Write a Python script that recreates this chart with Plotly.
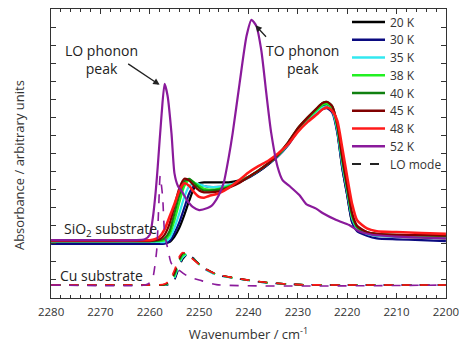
import plotly.graph_objects as go

# ---------------- data ----------------
temps = ["20 K", "30 K", "35 K", "38 K", "40 K", "45 K", "48 K"]
colors = ["#000000", "#0a0a80", "#33e8f0", "#22f022", "#108010", "#800000", "#ff1a1a"]

wn_solid = [2280, 2270, 2262, 2260, 2259, 2258, 2257, 2256, 2255, 2254, 2253, 2252, 2251, 2250,
            2249, 2248, 2246, 2244, 2242, 2240, 2238, 2236, 2234, 2232, 2230, 2228, 2226, 2225,
            2224, 2223, 2222, 2221, 2220, 2219, 2218, 2216, 2214, 2210, 2205, 2200]

abs_20K = [3.10, 3.10, 3.10, 3.05, 3.05, 3.05, 3.05, 3.10, 3.40, 3.90, 4.60, 5.40, 6.10, 6.35,
           6.40, 6.40, 6.40, 6.40, 6.50, 6.70, 7.00, 7.40, 7.90, 8.50, 9.35, 9.95, 10.45, 10.65,
           10.70, 10.40, 9.20, 7.20, 5.70, 4.20, 3.80, 3.55, 3.45, 3.40, 3.35, 3.30]
abs_30K = [3.00, 3.00, 3.00, 3.00, 3.00, 3.00, 3.00, 3.15, 3.60, 4.20, 5.00, 5.80, 6.20, 6.25,
           6.20, 6.15, 6.15, 6.20, 6.40, 6.65, 7.00, 7.40, 7.85, 8.45, 9.25, 9.80, 10.25, 10.45,
           10.50, 10.25, 9.15, 7.20, 5.70, 4.20, 3.70, 3.45, 3.30, 3.25, 3.20, 3.15]
abs_35K = [3.10, 3.10, 3.10, 3.10, 3.10, 3.10, 3.10, 3.30, 3.90, 4.70, 5.60, 6.20, 6.35, 6.30,
           6.20, 6.15, 6.15, 6.25, 6.45, 6.70, 7.05, 7.45, 7.90, 8.50, 9.30, 9.90, 10.35, 10.55,
           10.60, 10.35, 9.30, 7.40, 5.90, 4.40, 3.85, 3.55, 3.45, 3.40, 3.38, 3.35]
abs_38K = [3.15, 3.15, 3.15, 3.15, 3.15, 3.15, 3.20, 3.50, 4.30, 5.30, 6.20, 6.55, 6.40, 6.20,
           6.05, 6.00, 6.05, 6.20, 6.40, 6.70, 7.05, 7.45, 7.90, 8.55, 9.35, 9.95, 10.45, 10.70,
           10.75, 10.50, 9.45, 7.60, 6.00, 4.50, 3.90, 3.60, 3.50, 3.45, 3.42, 3.40]
abs_40K = [3.15, 3.15, 3.15, 3.15, 3.15, 3.20, 3.30, 3.70, 4.70, 5.70, 6.45, 6.60, 6.35, 6.10,
           5.95, 5.95, 6.00, 6.15, 6.40, 6.70, 7.05, 7.45, 7.95, 8.60, 9.40, 10.00, 10.55, 10.80,
           10.85, 10.60, 9.55, 7.70, 6.10, 4.60, 3.95, 3.65, 3.55, 3.50, 3.48, 3.45]
abs_45K = [3.15, 3.15, 3.15, 3.15, 3.20, 3.25, 3.50, 4.10, 5.10, 6.10, 6.60, 6.50, 6.20, 5.95,
           5.85, 5.85, 5.90, 6.10, 6.35, 6.70, 7.05, 7.45, 7.95, 8.60, 9.40, 10.00, 10.55, 10.80,
           10.85, 10.60, 9.60, 7.80, 6.20, 4.70, 4.00, 3.65, 3.55, 3.50, 3.48, 3.45]
abs_48K = [3.20, 3.20, 3.20, 3.20, 3.25, 3.40, 3.80, 4.50, 5.20, 5.95, 6.35, 6.20, 5.85, 5.60,
           5.55, 5.65, 5.80, 6.10, 6.50, 6.95, 7.30, 7.60, 8.00, 8.50, 9.20, 9.75, 10.20, 10.45,
           10.55, 10.35, 9.80, 8.30, 6.70, 5.20, 4.30, 3.85, 3.70, 3.65, 3.60, 3.55]
solid_series = [abs_20K, abs_30K, abs_35K, abs_38K, abs_40K, abs_45K, abs_48K]

wn_52 = [2280, 2270, 2263, 2261, 2260, 2259.4, 2258.8, 2258.4, 2257.6, 2257, 2256.4, 2255.6, 2255,
         2254.3, 2253.5, 2252.5, 2251.3, 2250, 2248.3, 2247.5, 2247, 2246, 2245, 2244, 2243.2,
         2241.8, 2240.4, 2239.4, 2238.4, 2237.4, 2236.4, 2235.4, 2234.1, 2233.1, 2231.7, 2229.7,
         2228.3, 2226.3, 2225, 2222.2, 2219.6, 2217.6, 2215, 2210, 2205, 2200]
abs_52K = [3.20, 3.20, 3.20, 3.25, 3.50, 4.40, 5.90, 7.25, 10.20, 11.85, 11.20, 9.10, 6.90,
           6.20, 5.90, 5.43, 5.04, 4.87, 4.98, 5.10, 5.25, 5.70, 6.40, 7.80, 9.14,
           11.90, 14.50, 15.40, 15.05, 13.70, 11.35, 9.14, 7.25, 6.53, 6.20, 5.70,
           5.20, 4.95, 4.71, 4.32, 4.04, 3.70, 3.50, 3.40, 3.35, 3.30]

# LO mode (Cu substrate) dashed curves
wn_lo = [2280, 2260, 2258, 2257, 2256, 2255, 2254, 2253.3, 2252.3, 2251.5, 2249.3, 2246.5,
         2243.2, 2240, 2236.4, 2229.7, 2220, 2200]
lo_20K = [0.72, 0.72, 0.72, 0.72, 0.76, 1.00, 1.75, 2.15, 2.45, 2.30, 1.70, 1.30, 1.12, 0.98, 0.85, 0.74, 0.72, 0.72]
lo_30K = [0.72, 0.72, 0.72, 0.72, 0.78, 1.05, 1.85, 2.25, 2.50, 2.30, 1.68, 1.28, 1.11, 0.97, 0.84, 0.74, 0.72, 0.72]
lo_35K = [0.72, 0.72, 0.72, 0.72, 0.80, 1.10, 1.90, 2.25, 2.45, 2.28, 1.66, 1.27, 1.11, 0.97, 0.84, 0.74, 0.72, 0.72]
lo_38K = [0.72, 0.72, 0.72, 0.73, 0.83, 1.20, 2.00, 2.35, 2.45, 2.25, 1.70, 1.30, 1.12, 0.98, 0.85, 0.74, 0.72, 0.72]
lo_40K = [0.72, 0.72, 0.72, 0.74, 0.86, 1.30, 2.10, 2.45, 2.45, 2.25, 1.72, 1.32, 1.13, 0.99, 0.86, 0.74, 0.72, 0.72]
lo_45K = [0.72, 0.72, 0.72, 0.75, 0.90, 1.40, 2.20, 2.50, 2.42, 2.22, 1.72, 1.32, 1.13, 0.99, 0.86, 0.74, 0.72, 0.72]
lo_48K = [0.72, 0.72, 0.73, 0.78, 0.98, 1.55, 2.30, 2.52, 2.40, 2.20, 1.70, 1.32, 1.13, 0.99, 0.86, 0.74, 0.72, 0.72]
lo_series = [lo_20K, lo_30K, lo_35K, lo_38K, lo_40K, lo_45K, lo_48K]

wn_lo52 = [2280, 2261, 2260, 2259.4, 2258.6, 2258.2, 2257.9, 2257.4, 2257, 2256.3, 2255.6,
           2253.3, 2252, 2250, 2246.5, 2200]
lo_52K = [0.72, 0.72, 0.85, 1.10, 2.65, 5.00, 6.76, 5.60, 3.60, 2.65, 1.90, 1.38, 1.16, 1.00, 0.74, 0.72]

color_52 = "#8a1a9b"
legend_labels = temps + ["52 K", "LO mode"]
legend_colors = colors + [color_52, "#222222"]

# ---------------- figure ----------------
W, H = 459, 354
ML, MR, MT, MB = 51, 13, 9, 56
PW, PH = W - ML - MR, H - MT - MB


def px_x(px):
    return (px - ML) / PW


def px_y(py):
    return (H - MB - py) / PH


fig = go.Figure()

for name, col, ys in zip(temps, colors, solid_series):
    fig.add_trace(go.Scatter(x=wn_solid, y=ys, mode="lines", name=name, showlegend=False,
                             line=dict(color=col, width=2.6 if name == "48 K" else 2.2,
                                       shape="spline", smoothing=0.6)))
fig.add_trace(go.Scatter(x=wn_52, y=abs_52K, mode="lines", name="52 K", showlegend=False,
                         line=dict(color=color_52, width=2.2, shape="spline", smoothing=0.6)))

for name, col, ys in zip(temps, colors, lo_series):
    fig.add_trace(go.Scatter(x=wn_lo, y=ys, mode="lines", name=name + " LO", showlegend=False,
                             line=dict(color=col, width=1.6, dash="dash", shape="spline", smoothing=0.6)))
fig.add_trace(go.Scatter(x=wn_lo52, y=lo_52K, mode="lines", name="52 K LO", showlegend=False,
                         line=dict(color=color_52, width=1.6, dash="dash", shape="spline", smoothing=0.6)))

FONT = "Open Sans"
ann_font = dict(family=FONT, size=14, color="#222222")

# legend (drawn manually for exact row spacing)
for i, (lab, col) in enumerate(zip(legend_labels, legend_colors)):
    yc = 22 + 17.75 * i
    fig.add_shape(type="line", xref="paper", yref="paper",
                  x0=px_x(352), x1=px_x(385), y0=px_y(yc), y1=px_y(yc),
                  line=dict(color=col, width=2.4 if lab != "LO mode" else 1.8,
                            dash="dash" if lab == "LO mode" else "solid"))
    fig.add_annotation(x=px_x(388), y=px_y(yc), xref="paper", yref="paper", text=lab,
                       showarrow=False, xanchor="left", yanchor="middle",
                       font=dict(family=FONT, size=12, color="#333333"))

fig.add_annotation(x=2269.7, y=13.2, xref="x", yref="y", text="LO phonon<br>peak",
                   showarrow=False, font=ann_font, align="center")
fig.add_annotation(x=2258.0, y=11.8, xref="x", yref="y", text="", showarrow=True,
                   ax=-33, ay=-22, arrowhead=2, arrowsize=1, arrowwidth=1.3, arrowcolor="#222222")
fig.add_annotation(x=2229.1, y=13.2, xref="x", yref="y", text="TO phonon<br>peak",
                   showarrow=False, font=ann_font, align="center")
fig.add_annotation(x=2238.6, y=15.1, xref="x", yref="y", text="", showarrow=True,
                   ax=12, ay=13, arrowhead=2, arrowsize=1, arrowwidth=1.3, arrowcolor="#222222")
fig.add_annotation(x=2277.8, y=3.77, xref="x", yref="y", text="SiO<sub>2</sub> substrate",
                   showarrow=False, font=ann_font, xanchor="left", yanchor="middle")
fig.add_annotation(x=2278.6, y=1.22, xref="x", yref="y", text="Cu substrate",
                   showarrow=False, font=ann_font, xanchor="left", yanchor="middle")
fig.add_annotation(x=0, y=0.46, xref="paper", yref="paper", xshift=-32,
                   text="Absorbance / arbitrary units", textangle=-90, showarrow=False,
                   font=dict(family=FONT, size=13, color="#333333"), xanchor="center", yanchor="middle")

fig.update_layout(
    width=W, height=H,
    margin=dict(l=ML, r=MR, t=MT, b=MB),
    paper_bgcolor="white", plot_bgcolor="white",
    font=dict(family=FONT, size=12, color="#333333"),
    showlegend=False,
    xaxis=dict(range=[2280.02, 2199.98], dtick=10, tick0=2200, ticks="inside", ticklen=5, tickwidth=1,
               tickcolor="#333333", showline=True, linecolor="#333333", linewidth=1, mirror="ticks",
               showgrid=False, zeroline=False, automargin=False, ticklabeloverflow="allow",
               ticklabelstandoff=3,
               minor=dict(dtick=2, ticks="inside", ticklen=3, tickcolor="#333333", showgrid=False),
               title=dict(text="Wavenumber / cm<sup>-1</sup>", font=dict(family=FONT, size=13), standoff=12),
               tickfont=dict(family=FONT, size=11.5, color="#333333")),
    yaxis=dict(range=[0, 16], dtick=1, ticks="inside", ticklen=5, tickwidth=1, tickcolor="#333333",
               showline=True, linecolor="#333333", linewidth=1, mirror="ticks", showgrid=False,
               zeroline=False, showticklabels=False, automargin=False),
)

fig.write_html("out.html", config={"displayModeBar": False},
               post_script="document.body.style.margin='0';document.body.style.overflow='hidden';")
